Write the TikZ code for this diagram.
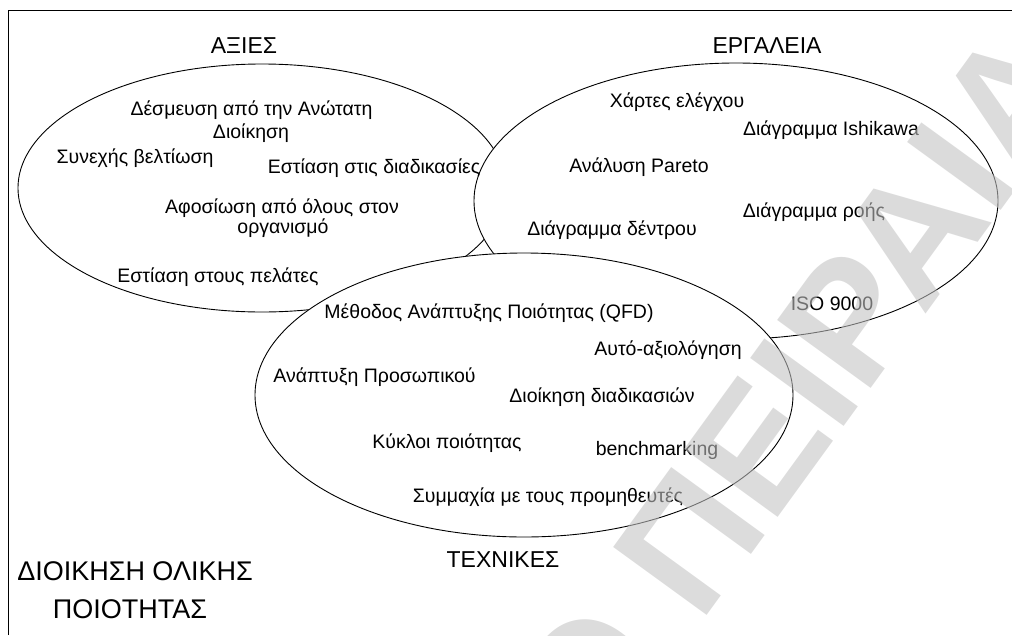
\documentclass[tikz,border=0pt]{standalone}
\usepackage{fontspec}
\setmainfont{Liberation Sans}
\usetikzlibrary{shapes.geometric}
\begin{document}
\begin{tikzpicture}[x=1pt,y=-1pt,
  set/.style={ellipse, draw=black, fill=white, line width=0.9pt, inner sep=0pt},
  item/.style={anchor=base, inner sep=0pt, font=\fontsize{19.5}{22}\selectfont},
  head/.style={anchor=base, inner sep=0pt, font=\fontsize{23}{26}\selectfont},
  bigtitle/.style={anchor=base, inner sep=0pt, font=\fontsize{27}{30}\selectfont},
  watermark/.style={rotate=54, anchor=base west, inner sep=0pt,
    text=black!24, text opacity=0.58,
    font=\fontsize{168}{168}\selectfont\bfseries}]
\useasboundingbox (0,0) rectangle (1012,635);

% frame
\coordinate (fbl) at (8,635);
\coordinate (ftl) at (8,10);
\coordinate (ftr) at (1012,10);
\draw[line width=0.9pt] (fbl) -- (ftl) -- (ftr);

% the three sets
\node[set, minimum width=488pt, minimum height=248pt] (values) at (262,188) {};
\node[set, minimum width=524pt, minimum height=276pt] (tools) at (736,201) {};
\node[set, minimum width=538pt, minimum height=284pt] (techniques) at (524,395) {};

% headings
\node[head] (hvalues) at (244,53) {ΑΞΙΕΣ};
\node[head] (htools) at (767,53) {ΕΡΓΑΛΕΙΑ};
\node[head] (htech) at (503,567) {ΤΕΧΝΙΚΕΣ};
\node[bigtitle] (t1) at (135,580) {ΔΙΟΙΚΗΣΗ ΟΛΙΚΗΣ};
\node[bigtitle] (t2) at (130,618) {ΠΟΙΟΤΗΤΑΣ};

% values
\node[item] (v1) at (251.5,115) {Δέσμευση από την Ανώτατη};
\node[item] (v2) at (251,138) {Διοίκηση};
\node[item] (v3) at (135,163) {Συνεχής βελτίωση};
\node[item] (v4) at (374,173) {Εστίαση στις διαδικασίες};
\node[item] (v5) at (282,213) {Αφοσίωση από όλους στον};
\node[item] (v6) at (283,233) {οργανισμό};
\node[item] (v7) at (218,282) {Εστίαση στους πελάτες};

% tools
\node[item] (o1) at (677,107) {Χάρτες ελέγχου};
\node[item] (o2) at (831,135) {Διάγραμμα Ishikawa};
\node[item] (o3) at (639,172) {Ανάλυση Pareto};
\node[item] (o4) at (814,217) {Διάγραμμα ροής};
\node[item] (o5) at (612,235) {Διάγραμμα δέντρου};
\node[item] (o6) at (832,310) {ISO 9000};

% techniques
\node[item] (q1) at (489,318) {Μέθοδος Ανάπτυξης Ποιότητας (QFD)};
\node[item] (q2) at (668,355) {Αυτό-αξιολόγηση};
\node[item] (q3) at (374.5,382) {Ανάπτυξη Προσωπικού};
\node[item] (q4) at (602,402) {Διοίκηση διαδικασιών};
\node[item] (q5) at (447,448) {Κύκλοι ποιότητας};
\node[item] (q6) at (657,455) {benchmarking};
\node[item] (q7) at (548,502) {Συμμαχία με τους προμηθευτές};

% watermark
\node[watermark] (wm) at (596,768) {Ο ΠΕΙΡΑΙΑ};
\end{tikzpicture}
\end{document}
